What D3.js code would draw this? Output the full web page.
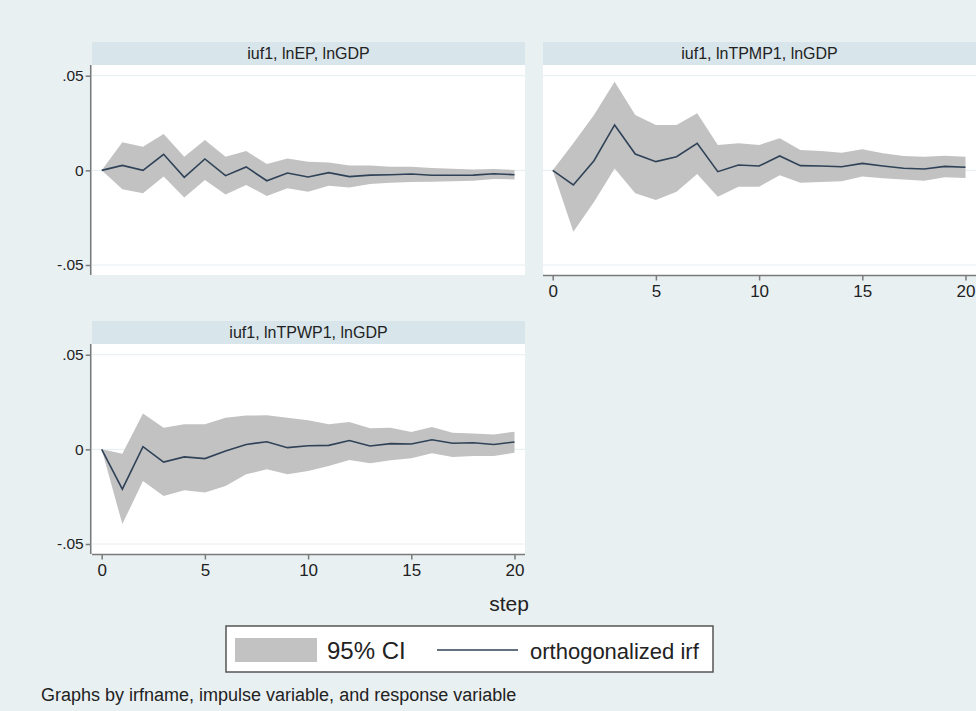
<!DOCTYPE html>
<html>
<head>
<meta charset="utf-8">
<script src="https://cdn.jsdelivr.net/npm/d3@7"></script>
<style>
  body { margin: 0; background: #e9f0f2; }
  text { font-family: "Liberation Sans", Arial, sans-serif; fill: #222; }
</style>
</head>
<body>
<div id="chart"></div>
<script>
// steps and panel titles
const steps = [0,1,2,3,4,5,6,7,8,9,10,11,12,13,14,15,16,17,18,19,20];
const titles = ["iuf1, lnEP, lnGDP", "iuf1, lnTPMP1, lnGDP", "iuf1, lnTPWP1, lnGDP"];
const yTicks = [-0.05, 0, 0.05];
const xTicks = [0, 5, 10, 15, 20];

// orthogonalized irf
const irfEP = [0, 0.0026, 0, 0.0085, -0.0037, 0.006, -0.0028, 0.0018, -0.0055, -0.0014, -0.0035,
  -0.0012, -0.0033, -0.0025, -0.0023, -0.0019, -0.0026, -0.0026, -0.0025, -0.0018, -0.0023];
const upEP = [0, 0.0148, 0.0125, 0.0192, 0.0072, 0.016, 0.0072, 0.0102, 0.0033, 0.0063, 0.0046,
  0.0042, 0.0026, 0.0026, 0.0019, 0.0019, 0.0012, 0.0009, 0.0005, 0.0007, 0.0002];
const loEP = [0, -0.010, -0.0121, -0.0033, -0.0144, -0.0051, -0.0127, -0.0077, -0.0135, -0.0095, -0.0113,
  -0.0081, -0.009, -0.0072, -0.0065, -0.0062, -0.006, -0.0058, -0.0055, -0.0046, -0.0048];

const irfTPMP = [0, -0.0077, 0.0051, 0.024, 0.0086, 0.0046, 0.0072, 0.0143, -0.0007, 0.0028, 0.0023,
  0.0076, 0.0025, 0.0023, 0.0019, 0.0037, 0.0023, 0.0011, 0.0007, 0.0021, 0.0016];
const upTPMP = [0, 0.0143, 0.0292, 0.0468, 0.0292, 0.024, 0.024, 0.0301, 0.0134, 0.0143, 0.0134,
  0.0169, 0.0107, 0.0102, 0.0093, 0.0111, 0.009, 0.0076, 0.0072, 0.0077, 0.0072];
const loTPMP = [0, -0.0324, -0.0167, 0.001, -0.0121, -0.0157, -0.0113, -0.0019, -0.0139, -0.0086, -0.0086,
  -0.0026, -0.0065, -0.0062, -0.0058, -0.0033, -0.0042, -0.0048, -0.0055, -0.0037, -0.004];

const irfTPWP = [0, -0.021, 0.0014, -0.0067, -0.004, -0.0049, -0.0009, 0.0026, 0.004, 0.0009, 0.0019,
  0.0021, 0.0047, 0.0018, 0.003, 0.0028, 0.0051, 0.0032, 0.0035, 0.0026, 0.0039];
const upTPWP = [0, -0.0023, 0.019, 0.0114, 0.0132, 0.0132, 0.0167, 0.0179, 0.018, 0.0167, 0.0154,
  0.0132, 0.0144, 0.0111, 0.0114, 0.0091, 0.0118, 0.0088, 0.0084, 0.0079, 0.0093];
const loTPWP = [0, -0.0395, -0.0167, -0.0246, -0.0216, -0.0228, -0.0193, -0.0132, -0.0105, -0.0132, -0.0114,
  -0.0088, -0.0056, -0.0074, -0.0058, -0.0047, -0.0021, -0.004, -0.0035, -0.0035, -0.0018];

const W = 976, H = 711;
const bandColor = "#c2c2c2", lineColor = "#2f4257", axisColor = "#7a7a7a";

const svg = d3.select("#chart").append("svg")
  .attr("width", W).attr("height", H);

svg.append("rect").attr("width", W).attr("height", H).attr("fill", "#e9f0f2");

// panel boxes: plot region + whether to draw y / x axis
const panels = [
  {title: titles[0], irf: irfEP, up: upEP, lo: loEP, x0: 92, x1: 525, y0: 65, y1: 275, yAxis: true, xAxis: false},
  {title: titles[1], irf: irfTPMP, up: upTPMP, lo: loTPMP, x0: 543, x1: 976, y0: 65, y1: 275, yAxis: false, xAxis: true},
  {title: titles[2], irf: irfTPWP, up: upTPWP, lo: loTPWP, x0: 92, x1: 525, y0: 344, y1: 554, yAxis: true, xAxis: true}
];

panels.forEach(p => {
  const g = svg.append("g");

  const x = d3.scaleLinear().domain([0, 20]).range([p.x0 + 9.7, p.x1 - 10.5]);
  const y = d3.scaleLinear().domain([-0.05, 0.05]).range([p.y1 - 10, p.y0 + 10.7]);

  // strip header
  g.append("rect")
    .attr("x", p.x0).attr("y", p.y0 - 23)
    .attr("width", p.x1 - p.x0).attr("height", 23)
    .attr("fill", "#d8e5ea");
  g.append("text")
    .attr("x", (p.x0 + p.x1) / 2).attr("y", p.y0 - 6.5)
    .attr("text-anchor", "middle")
    .style("font-size", "16px")
    .text(p.title);

  // plot region
  g.append("rect")
    .attr("x", p.x0).attr("y", p.y0)
    .attr("width", p.x1 - p.x0).attr("height", p.y1 - p.y0)
    .attr("fill", "#ffffff");

  // faint grid lines
  g.selectAll(".grid")
    .data(yTicks)
    .join("line")
      .attr("x1", p.x0).attr("x2", p.x1)
      .attr("y1", d => y(d)).attr("y2", d => y(d))
      .attr("stroke", "#e6eef1")
      .attr("stroke-width", 1);

  // 95% CI band
  const area = d3.area()
    .x((d, i) => x(steps[i]))
    .y0((d, i) => y(p.lo[i]))
    .y1((d, i) => y(p.up[i]));
  g.append("path")
    .datum(steps)
    .attr("d", area)
    .attr("fill", bandColor);

  // irf line
  const line = d3.line()
    .x((d, i) => x(steps[i]))
    .y(d => y(d));
  g.append("path")
    .datum(p.irf)
    .attr("d", line)
    .attr("fill", "none")
    .attr("stroke", lineColor)
    .attr("stroke-width", 1.6);

  if (p.yAxis) {
    const ya = g.append("g")
      .attr("transform", `translate(${p.x0 - 1.3},0)`)
      .call(d3.axisLeft(y).tickValues(yTicks).tickSize(5).tickPadding(2)
        .tickFormat(d => d === 0 ? "0" : (d < 0 ? "-.05" : ".05")));
    ya.select(".domain").attr("d", `M0,${p.y0}V${p.y1}`);
    ya.selectAll("path, line").attr("stroke", axisColor).attr("stroke-width", 1.5);
    ya.selectAll("text").style("font-size", "15.5px").attr("fill", "#333");
  }
  if (p.xAxis) {
    const xa = g.append("g")
      .attr("transform", `translate(0,${p.y1 + 0.5})`)
      .call(d3.axisBottom(x).tickValues(xTicks).tickSize(5).tickPadding(4));
    xa.select(".domain").attr("d", `M${p.x0},0H${p.x1}`);
    xa.selectAll("path, line").attr("stroke", axisColor).attr("stroke-width", 1.5);
    xa.selectAll("text").style("font-size", "17px").attr("fill", "#333");
  }
});

// x title
svg.append("text")
  .attr("x", 509).attr("y", 611)
  .attr("text-anchor", "middle")
  .style("font-size", "21px")
  .text("step");

// legend
const leg = svg.append("g");
leg.append("rect")
  .attr("x", 226).attr("y", 626).attr("width", 487).attr("height", 46)
  .attr("fill", "#ffffff").attr("stroke", "#555").attr("stroke-width", 1.5);
leg.append("rect")
  .attr("x", 235).attr("y", 638).attr("width", 82).attr("height", 24)
  .attr("fill", bandColor);
leg.append("text")
  .attr("x", 327).attr("y", 659)
  .style("font-size", "24px")
  .text("95% CI");
leg.append("line")
  .attr("x1", 437).attr("x2", 518).attr("y1", 650).attr("y2", 650)
  .attr("stroke", lineColor).attr("stroke-width", 1.6);
leg.append("text")
  .attr("x", 530).attr("y", 659)
  .style("font-size", "22px")
  .text("orthogonalized irf");

// note
svg.append("text")
  .attr("x", 41).attr("y", 701)
  .style("font-size", "18px")
  .text("Graphs by irfname, impulse variable, and response variable");
</script>
</body>
</html>
